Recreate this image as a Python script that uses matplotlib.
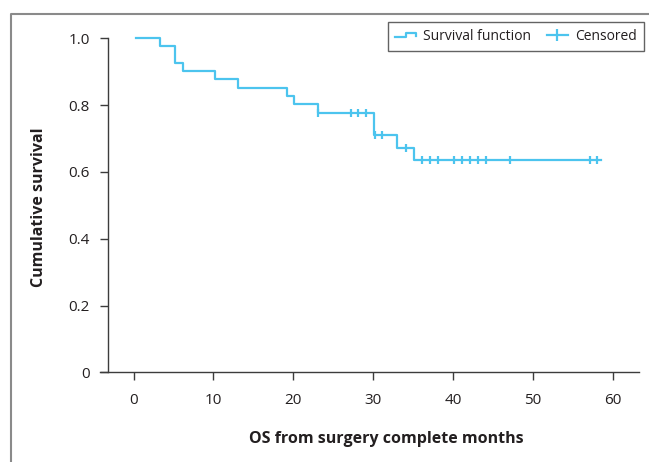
import numpy as np
import matplotlib
matplotlib.use("Agg")
import matplotlib.pyplot as plt
from matplotlib.lines import Line2D
from matplotlib.legend_handler import HandlerBase

plt.rcParams['font.family'] = ['Open Sans', 'DejaVu Sans']

# -------------------------
# Data
# -------------------------
event_times = [0.35, 3.35, 5.25, 6.25, 10.25, 13.05, 19.25, 20.15, 23.15, 30.1, 33.05, 35.15]
survival = [1.0, 0.976, 0.927, 0.902, 0.877, 0.851, 0.826, 0.802, 0.776, 0.710, 0.673, 0.636]
end_time = 58.5
censored_times = [23.15, 27.2, 28.15, 29.15, 30.2, 31.1, 34.15, 36.15, 37.1, 38.1,
                  40.1, 41.15, 42.1, 43.15, 44.15, 47.1, 57.15, 58.1]
x_ticks = [0, 10, 20, 30, 40, 50, 60]
y_ticks = [0, 0.2, 0.4, 0.6, 0.8, 1.0]
y_tick_labels = ["0", "0.2", "0.4", "0.6", "0.8", "1.0"]

line_color = "#4cc4ee"
axis_color = "#3c3c3c"
text_color = "#231f20"


class StepHandler(HandlerBase):
    # little step glyph used by the legend for the survival curve
    def create_artists(self, legend, orig_handle, xdescent, ydescent, width, height, fontsize, trans):
        x0, x1 = -xdescent, -xdescent + width
        xm = x0 + width * 0.55
        ylo = -ydescent + height * 0.3
        yhi = -ydescent + height * 0.7
        line = Line2D([x0, xm, xm, x1, x1], [ylo, ylo, yhi, yhi, ylo + (yhi - ylo) * 0.35],
                      color=orig_handle.get_color(), lw=orig_handle.get_linewidth(), transform=trans)
        return [line]


fig = plt.figure(figsize=(6.49, 4.62), dpi=100)
ax = fig.add_axes([100 / 649, 89.7 / 462, 539 / 649, 334 / 462])

# survival curve
xs = event_times + [end_time]
ys = survival + [survival[-1]]
ax.step(xs, ys, where="post", color=line_color, lw=1.6, clip_on=False)

# censored marks
idx = np.searchsorted(event_times, censored_times, side="right") - 1
cens_y = [survival[i] for i in idx]
ax.plot(censored_times, cens_y, linestyle="none", marker="|", markersize=6,
        markeredgewidth=1.6, color=line_color, clip_on=False)

ax.set_xlim(-4.2, 63.3)
ax.set_ylim(0, 1.0)

for side in ["top", "right"]:
    ax.spines[side].set_visible(False)
ax.spines["left"].set_position(("data", -3.2))
ax.spines["left"].set_color(axis_color)
ax.spines["bottom"].set_color(axis_color)
ax.spines["left"].set_linewidth(1.0)
ax.spines["bottom"].set_linewidth(1.0)

ax.set_xticks(x_ticks)
ax.set_yticks(y_ticks)
ax.set_yticklabels(y_tick_labels)
ax.tick_params(axis="both", direction="out", length=6, width=1.0, color=axis_color,
               labelsize=11, labelcolor=text_color, pad=7)
ax.tick_params(axis="x", pad=9)

ax.set_xlabel("OS from surgery complete months", fontsize=11.5, fontweight="bold", color=text_color)
ax.set_ylabel("Cumulative survival", fontsize=11.5, fontweight="bold", color=text_color)
ax.xaxis.set_label_coords(0.532, -0.175)
ax.yaxis.set_label_coords(-0.098, 0.495)

# legend
step_handle = Line2D([], [], color=line_color, lw=1.6)
cens_handle = Line2D([], [], color=line_color, lw=1.6, marker="|", markersize=9, markeredgewidth=1.6)
leg = ax.legend([step_handle, cens_handle], ["Survival function", "Censored"], ncol=2,
                loc="upper right", bbox_to_anchor=(1.009, 1.049), borderaxespad=0,
                handler_map={step_handle: StepHandler()}, fontsize=10, frameon=True,
                fancybox=False, handlelength=1.5, handletextpad=0.55, columnspacing=1.1,
                borderpad=0.5)
leg.get_frame().set_edgecolor(axis_color)
leg.get_frame().set_linewidth(1.0)
for t in leg.get_texts():
    t.set_color(text_color)

# outer frame of the figure panel
fy = (462 - 14) / 462
fx = 11 / 649
fig.add_artist(Line2D([fx, fx, 1.0], [0.0, fy, fy], transform=fig.transFigure,
                      color="#8a8a8a", lw=1.5))

fig.savefig("out.png", dpi=100)
